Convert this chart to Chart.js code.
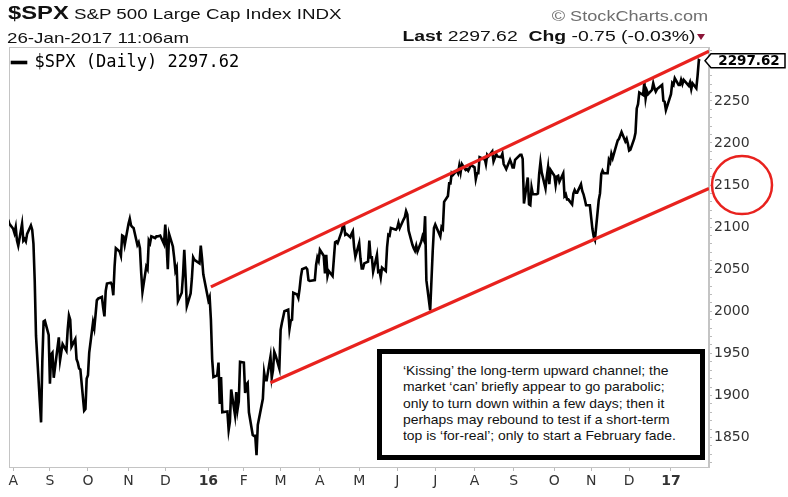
<!DOCTYPE html>
<html>
<head>
<meta charset="utf-8">
<title>$SPX S&amp;P 500 Large Cap Index</title>
<script src="https://cdn.jsdelivr.net/npm/chart.js@4.4.1/dist/chart.umd.min.js"></script>
<style>
  html, body { margin: 0; padding: 0; background: #fff; }
  #wrap { position: relative; width: 788px; height: 497px; overflow: hidden; }
  #spx-chart { display: block; }
  /* the reference screenshot is stretched sideways, so the header text is too */
  .txt { position: absolute; white-space: pre; line-height: 1; color: #111;
         font-family: 'Liberation Sans', Arial, sans-serif;
         transform: scaleX(1.25); transform-origin: 0 0; }
  .txt.right { transform-origin: 100% 0; text-align: right; }
  #down { position: absolute; left: 697px; top: 34px; width: 0; height: 0;
          border-left: 4px solid transparent; border-right: 4px solid transparent;
          border-top: 6px solid #8b1538; }
  #note { position: absolute; left: 377px; top: 349px; width: 328px; height: 111px;
          box-sizing: border-box; border: 5px solid #000; background: #fff; }
  #note div { position: absolute; left: 21px; top: 9px; white-space: pre;
              font-family: 'Liberation Sans', Arial, sans-serif; font-size: 13.5px;
              line-height: 16.3px; color: #111;
              transform: scaleX(1.03); transform-origin: 0 0; }
</style>
</head>
<body>
<div id="wrap">
  <canvas id="spx-chart" width="788" height="497"></canvas>

  <div class="txt" style="left:8px; top:3px; font-size:19px;"><b>$SPX</b><span style="font-size:15px;"> S&amp;P 500 Large Cap Index INDX</span></div>
  <div class="txt" style="left:7px; top:30px; font-size:15px;">26-Jan-2017 11:06am</div>
  <div class="txt right" style="right:80px; top:9px; font-size:14.5px; color:#6e6e6e;">© StockCharts.com</div>
  <div class="txt right" style="right:93px; top:28px; font-size:15.5px;"><b>Last</b> 2297.62  <b>Chg</b> -0.75 (-0.03%)</div>
  <div id="down"></div>

  <div id="note"><div>‘Kissing’ the long-term upward channel; the
market ‘can’ briefly appear to go parabolic;
only to turn down within a few days; then it
perhaps may rebound to test if a short-term
top is ‘for-real’; only to start a February fade.</div></div>
</div>

<script>
// Daily closes of $SPX, one row per month
const months = ['2015-07','2015-08','2015-09','2015-10','2015-11','2015-12',
                '2016-01','2016-02','2016-03','2016-04','2016-05','2016-06',
                '2016-07','2016-08','2016-09','2016-10','2016-11','2016-12','2017-01'];

const tradingDays = [
  [30,31],
  [3,4,5,6,7,10,11,12,13,14,17,18,19,20,21,24,25,26,27,28,31],
  [1,2,3,4,8,9,10,11,14,15,16,17,18,21,22,23,24,25,28,29,30],
  [1,2,5,6,7,8,9,12,13,14,15,16,19,20,21,22,23,26,27,28,29,30],
  [2,3,4,5,6,9,10,11,12,13,16,17,18,19,20,23,24,25,27,30],
  [1,2,3,4,7,8,9,10,11,14,15,16,17,18,21,22,23,24,28,29,30,31],
  [4,5,6,7,8,11,12,13,14,15,19,20,21,22,25,26,27,28,29],
  [1,2,3,4,5,8,9,10,11,12,16,17,18,19,22,23,24,25,26,29],
  [1,2,3,4,7,8,9,10,11,14,15,16,17,18,21,22,23,24,28,29,30,31],
  [1,4,5,6,7,8,11,12,13,14,15,18,19,20,21,22,25,26,27,28,29],
  [2,3,4,5,6,9,10,11,12,13,16,17,18,19,20,23,24,25,26,27,31],
  [1,2,3,6,7,8,9,10,13,14,15,16,17,20,21,22,23,24,27,28,29,30],
  [1,5,6,7,8,11,12,13,14,15,18,19,20,21,22,25,26,27,28,29],
  [1,2,3,4,5,8,9,10,11,12,15,16,17,18,19,22,23,24,25,26,29,30,31],
  [1,2,6,7,8,9,12,13,14,15,16,19,20,21,22,23,26,27,28,29,30],
  [3,4,5,6,7,10,11,12,13,14,17,18,19,20,21,24,25,26,27,28,31],
  [1,2,3,4,7,8,9,10,11,14,15,16,17,18,21,22,23,25,28,29,30],
  [1,2,5,6,7,8,9,12,13,14,15,16,19,20,21,22,23,27,28,29,30],
  [3,4,5,6,9,10,11,12,13,17,18,19,20,23,24,25,26]
];

const closes = [
  [2109,2104],
  [2098,2093,2100,2084,2078,2104,2084,2086,2083,2092,2102,2097,2080,2036,1971,1893,1868,1941,1988,1989,1972],
  [1914,1949,1951,1921,1969,1942,1952,1961,1953,1978,1995,1990,1958,1967,1943,1939,1932,1931,1882,1884,1920],
  [1924,1951,1987,1980,1996,2013,2015,2017,2004,1994,2024,2033,2034,2031,2019,2053,2075,2071,2066,2090,2089,2079],
  [2104,2110,2102,2100,2099,2079,2082,2075,2046,2023,2053,2050,2084,2081,2089,2087,2089,2089,2090,2080],
  [2103,2080,2050,2092,2077,2064,2048,2052,2012,2022,2043,2073,2042,2006,2021,2039,2064,2061,2057,2078,2063,2044],
  [2013,2017,1990,1943,1922,1924,1939,1890,1922,1880,1881,1859,1869,1907,1877,1904,1883,1893,1940],
  [1939,1903,1913,1915,1880,1853,1852,1852,1829,1865,1896,1927,1918,1918,1946,1921,1930,1952,1948,1932],
  [1978,1986,1993,2000,2002,1979,1989,1990,2022,2020,2016,2027,2041,2050,2052,2050,2037,2036,2037,2055,2064,2060],
  [2073,2066,2045,2067,2042,2048,2042,2062,2082,2083,2081,2094,2101,2102,2091,2092,2088,2092,2095,2076,2065],
  [2081,2063,2051,2051,2057,2059,2084,2064,2064,2047,2067,2047,2048,2040,2052,2048,2076,2091,2090,2099,2097],
  [2099,2105,2099,2109,2112,2119,2115,2096,2079,2075,2072,2078,2071,2083,2089,2085,2113,2037,2001,2036,2071,2099],
  [2103,2089,2100,2098,2130,2137,2152,2152,2164,2162,2167,2164,2173,2165,2175,2168,2169,2167,2170,2174],
  [2171,2157,2164,2164,2183,2181,2182,2175,2186,2184,2190,2178,2182,2187,2184,2183,2187,2175,2172,2169,2180,2176,2171],
  [2171,2180,2186,2186,2181,2128,2159,2127,2126,2147,2139,2139,2140,2163,2177,2165,2146,2160,2171,2151,2168],
  [2161,2150,2160,2161,2154,2164,2137,2139,2133,2133,2127,2140,2144,2141,2141,2151,2143,2139,2133,2126,2126],
  [2112,2098,2089,2085,2132,2140,2163,2167,2164,2164,2180,2177,2187,2182,2198,2203,2205,2213,2202,2205,2199],
  [2191,2192,2205,2212,2241,2246,2260,2257,2272,2253,2262,2258,2263,2271,2265,2261,2264,2269,2250,2249,2239],
  [2258,2271,2269,2277,2269,2269,2275,2270,2275,2268,2272,2264,2271,2265,2280,2298.4,2297.62]
];

// month letters under the first trading day of Aug-2015 .. Jan-2017
const tickLabels = ['A','S','O','N','D','16','F','M','A','M','J','J','A','S','O','N','D','17'];

// hand drawn channel lines
const upperChannelDates = ['2016-01-06', '2017-02-02'];
const upperChannelValues = [2029, 2309];
const lowerChannelDates = ['2016-02-22', '2017-02-02'];
const lowerChannelValues = [1915, 2146];

const lastPrice = 2297.62;
const circledLevel = 2150;
const firstShownDay = '2015-07-31';
const lastShownDay = '2017-02-02';

const RED = '#e8221e';

function dayNum(s) {
  var p = s.split('-');
  return Date.UTC(+p[0], +p[1] - 1, +p[2]) / 864e5;
}

// Build the price points and the month ticks
var pricePoints = [];
var monthTicks = [];
months.forEach(function (m, i) {
  tradingDays[i].forEach(function (d, j) {
    var x = dayNum(m + '-' + String(d).padStart(2, '0'));
    if (j === 0 && i > 0) monthTicks.push(x);
    pricePoints.push({ x: x, y: closes[i][j] });
  });
});

var upperPoints = upperChannelDates.map(function (d, i) { return { x: dayNum(d), y: upperChannelValues[i] }; });
var lowerPoints = lowerChannelDates.map(function (d, i) { return { x: dayNum(d), y: lowerChannelValues[i] }; });

// frame round the plot, price tag and the red circle on the axis
var extras = {
  id: 'extras',
  afterLayout: function (chart) {
    // legend at 'chartArea' ends up at the canvas top, push it into the plot
    var lg = chart.legend;
    if (lg) {
      lg.top = chart.chartArea.top + 4;
      lg.bottom = chart.chartArea.bottom;
    }
  },
  beforeDatasetsDraw: function (chart) {
    var a = chart.chartArea, ctx = chart.ctx;
    ctx.save();
    ctx.strokeStyle = '#c4c4c4';
    ctx.lineWidth = 1;
    ctx.strokeRect(a.left + 0.5, a.top + 0.5, a.right - a.left - 1, a.bottom - a.top);
    ctx.restore();
  },
  afterDraw: function (chart) {
    var a = chart.chartArea, ctx = chart.ctx, ys = chart.scales.y;

    // last price tag
    var y = ys.getPixelForValue(lastPrice);
    var r = a.right;
    ctx.save();
    ctx.beginPath();
    ctx.moveTo(r - 4, y);
    ctx.lineTo(r + 2, y - 7);
    ctx.lineTo(r + 76, y - 7);
    ctx.lineTo(r + 76, y + 7);
    ctx.lineTo(r + 2, y + 7);
    ctx.closePath();
    ctx.fillStyle = '#fff';
    ctx.fill();
    ctx.lineWidth = 1.5;
    ctx.strokeStyle = '#000';
    ctx.stroke();
    ctx.fillStyle = '#000';
    ctx.font = 'bold 13.5px "DejaVu Sans"';
    ctx.textAlign = 'center';
    ctx.textBaseline = 'middle';
    ctx.fillText(lastPrice.toFixed(2), r + 40, y + 0.5);

    // circle round the lower channel end
    ctx.beginPath();
    ctx.ellipse(r + 33, ys.getPixelForValue(circledLevel), 30, 29, 0, 0, Math.PI * 2);
    ctx.strokeStyle = RED;
    ctx.lineWidth = 2.5;
    ctx.stroke();
    ctx.restore();
  }
};

var ctx = document.getElementById('spx-chart').getContext('2d');
var spxChart = new Chart(ctx, {
  type: 'line',
  data: {
    datasets: [
      {
        label: '$SPX (Daily) 2297.62',
        data: pricePoints,
        borderColor: '#000',
        backgroundColor: '#000',
        borderWidth: 2.6,
        pointRadius: 0,
        tension: 0,
        order: 2
      },
      {
        label: 'upper channel',
        data: upperPoints,
        borderColor: RED,
        borderWidth: 3.2,
        pointRadius: 0,
        order: 1
      },
      {
        label: 'lower channel',
        data: lowerPoints,
        borderColor: RED,
        borderWidth: 3.2,
        pointRadius: 0,
        order: 1
      }
    ]
  },
  options: {
    responsive: false,
    animation: false,
    events: [],
    layout: { padding: { top: 47, left: 9, right: 0, bottom: 0 } },
    scales: {
      x: {
        type: 'linear',
        min: dayNum(firstShownDay) - 0.3,
        max: dayNum(lastShownDay),
        afterBuildTicks: function (scale) {
          scale.ticks = monthTicks.map(function (v) { return { value: v }; });
        },
        afterFit: function (scale) { scale.height = 30; },
        ticks: {
          autoSkip: false,
          maxRotation: 0,
          padding: 2,
          color: '#333',
          font: function (c) {
            var bold = /\d/.test(tickLabels[c.index] || '');
            return { family: 'DejaVu Sans', size: 14, weight: bold ? 'bold' : 'normal' };
          },
          callback: function (v, i) { return tickLabels[i]; }
        },
        grid: { drawOnChartArea: false, tickLength: 4, color: '#bbb' },
        border: { color: '#c4c4c4' }
      },
      y: {
        position: 'right',
        min: 1815,
        max: 2314,
        afterBuildTicks: function (scale) {
          var t = [];
          for (var v = 1820; v <= 2310; v += 10) t.push({ value: v });
          scale.ticks = t;
        },
        afterFit: function (scale) { scale.width = 79; },
        ticks: {
          autoSkip: false,
          padding: 2,
          color: '#333',
          font: { family: 'DejaVu Sans', size: 14 },
          callback: function (v) { return (v % 50 === 0 && v <= 2250) ? String(v) : ''; }
        },
        grid: { drawOnChartArea: false, tickLength: 3, color: '#bbb' },
        border: { color: '#c4c4c4' }
      }
    },
    plugins: {
      tooltip: { enabled: false },
      legend: {
        position: 'chartArea',
        align: 'start',
        labels: {
          filter: function (item) { return item.datasetIndex === 0; },
          boxWidth: 14,
          boxHeight: 1,
          padding: 3,
          color: '#000',
          font: { family: 'DejaVu Sans Mono', size: 17 }
        }
      }
    }
  },
  plugins: [extras]
});
</script>
</body>
</html>
